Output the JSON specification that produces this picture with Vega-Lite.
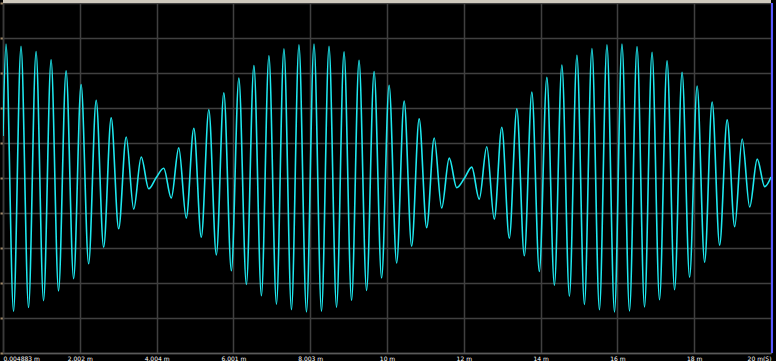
{
  "$schema": "https://vega.github.io/schema/vega-lite/v6.json",
  "width": 768,
  "height": 350,
  "autosize": {"type": "none"},
  "padding": {"left": 3, "top": 3, "right": 5, "bottom": 8},
  "background": "#000000",
  "config": {
    "view": {"stroke": "#3a3a3a", "fill": "#000000"},
    "axis": {"gridColor": "#404040", "gridWidth": 1.5, "gridOpacity": 1}
  },
  "data": {"values": [
    {"t": 0.0, "v": 1.197},
    {"t": 0.078, "v": 3.828}, {"t": 0.274, "v": -3.808}, {"t": 0.469, "v": 3.765}, {"t": 0.665, "v": -3.700},
    {"t": 0.861, "v": 3.614}, {"t": 1.056, "v": -3.505}, {"t": 1.252, "v": 3.377}, {"t": 1.447, "v": -3.228},
    {"t": 1.643, "v": 3.060}, {"t": 1.839, "v": -2.874}, {"t": 2.034, "v": 2.671}, {"t": 2.230, "v": -2.452},
    {"t": 2.426, "v": 2.220}, {"t": 2.621, "v": -1.974}, {"t": 2.817, "v": 1.717}, {"t": 3.012, "v": -1.449},
    {"t": 3.208, "v": 1.172}, {"t": 3.404, "v": -0.889}, {"t": 3.599, "v": 0.600}, {"t": 3.795, "v": -0.308},
    {"t": 3.991, "v": 0.014}, {"t": 4.186, "v": 0.280}, {"t": 4.382, "v": -0.572}, {"t": 4.577, "v": 0.861},
    {"t": 4.773, "v": -1.145}, {"t": 4.969, "v": 1.422}, {"t": 5.164, "v": -1.691}, {"t": 5.360, "v": 1.949},
    {"t": 5.556, "v": -2.197}, {"t": 5.751, "v": 2.432}, {"t": 5.947, "v": -2.651}, {"t": 6.142, "v": 2.855},
    {"t": 6.338, "v": -3.043}, {"t": 6.534, "v": 3.212}, {"t": 6.729, "v": -3.363}, {"t": 6.925, "v": 3.494},
    {"t": 7.121, "v": -3.604}, {"t": 7.316, "v": 3.693}, {"t": 7.512, "v": -3.760}, {"t": 7.707, "v": 3.805},
    {"t": 7.903, "v": -3.827}, {"t": 8.099, "v": 3.827}, {"t": 8.294, "v": -3.804}, {"t": 8.490, "v": 3.760},
    {"t": 8.686, "v": -3.692}, {"t": 8.881, "v": 3.603}, {"t": 9.077, "v": -3.493}, {"t": 9.272, "v": 3.362},
    {"t": 9.468, "v": -3.211}, {"t": 9.664, "v": 3.041}, {"t": 9.859, "v": -2.854}, {"t": 10.055, "v": 2.649},
    {"t": 10.251, "v": -2.429}, {"t": 10.446, "v": 2.195}, {"t": 10.642, "v": -1.947}, {"t": 10.837, "v": 1.688},
    {"t": 11.033, "v": -1.419}, {"t": 11.229, "v": 1.142}, {"t": 11.424, "v": -0.858}, {"t": 11.620, "v": 0.569},
    {"t": 11.816, "v": -0.277}, {"t": 12.011, "v": -0.017}, {"t": 12.207, "v": 0.311}, {"t": 12.402, "v": -0.603},
    {"t": 12.598, "v": 0.891}, {"t": 12.794, "v": -1.174}, {"t": 12.989, "v": 1.451}, {"t": 13.185, "v": -1.719},
    {"t": 13.381, "v": 1.976}, {"t": 13.576, "v": -2.222}, {"t": 13.772, "v": 2.454}, {"t": 13.967, "v": -2.673},
    {"t": 14.163, "v": 2.876}, {"t": 14.359, "v": -3.062}, {"t": 14.554, "v": 3.229}, {"t": 14.750, "v": -3.378},
    {"t": 14.946, "v": 3.506}, {"t": 15.141, "v": -3.614}, {"t": 15.337, "v": 3.701}, {"t": 15.532, "v": -3.766},
    {"t": 15.728, "v": 3.808}, {"t": 15.924, "v": -3.828}, {"t": 16.119, "v": 3.826}, {"t": 16.315, "v": -3.801},
    {"t": 16.511, "v": 3.753}, {"t": 16.706, "v": -3.684}, {"t": 16.902, "v": 3.593}, {"t": 17.097, "v": -3.480},
    {"t": 17.293, "v": 3.347}, {"t": 17.489, "v": -3.194}, {"t": 17.684, "v": 3.023}, {"t": 17.880, "v": -2.833},
    {"t": 18.076, "v": 2.627}, {"t": 18.271, "v": -2.405}, {"t": 18.467, "v": 2.170}, {"t": 18.662, "v": -1.920},
    {"t": 18.858, "v": 1.660}, {"t": 19.054, "v": -1.390}, {"t": 19.249, "v": 1.113}, {"t": 19.445, "v": -0.828},
    {"t": 19.641, "v": 0.538}, {"t": 19.836, "v": -0.246}, {"t": 20.0, "v": 0.03}
  ]},
  "layer": [
    {
      "mark": {"type": "line", "interpolate": "monotone", "color": "#1ee8ef", "strokeWidth": 1.6, "clip": true},
      "encoding": {
        "x": {
          "field": "t", "type": "quantitative",
          "scale": {"domain": [0, 20], "nice": false, "zero": false},
          "axis": {
            "title": null,
            "values": [0, 2, 4, 6, 8, 10, 12, 14, 16, 18, 20],
            "labelExpr": "datum.value == 0 ? '0.004883 m' : datum.value == 2 ? '2.002 m' : datum.value == 4 ? '4.004 m' : datum.value == 6 ? '6.001 m' : datum.value == 8 ? '8.003 m' : datum.value == 20 ? '20 m(S)' : datum.value + ' m'",
            "labelFlush": true,
            "labelColor": "#ffffff",
            "labelFont": "DejaVu Sans",
            "labelFontSize": 6,
            "labelPadding": 2,
            "ticks": false,
            "domainColor": "#5a5a5a",
            "domainWidth": 1.5,
            "grid": true
          }
        },
        "y": {
          "field": "v", "type": "quantitative",
          "scale": {"domain": [-5, 5], "nice": false},
          "axis": {
            "title": null,
            "values": [-5, -4, -3, -2, -1, 0, 1, 2, 3, 4, 5],
            "labels": false,
            "ticks": true,
            "tickSize": 3,
            "tickColor": "#a08a6a",
            "tickWidth": 2,
            "domainColor": "#3a3a3a",
            "domainWidth": 1.5,
            "grid": true
          }
        }
      }
    },
    {
      "mark": {"type": "rule", "color": "#cfc9bd", "strokeWidth": 3, "yOffset": -2},
      "encoding": {
        "y": {
          "datum": 5, "type": "quantitative",
          "scale": {"domain": [-5, 5], "nice": false},
          "axis": {
            "title": null,
            "values": [-5, -4, -3, -2, -1, 0, 1, 2, 3, 4, 5],
            "labels": false,
            "ticks": true,
            "tickSize": 3,
            "tickColor": "#a08a6a",
            "tickWidth": 2,
            "domainColor": "#3a3a3a",
            "domainWidth": 1.5,
            "grid": true
          }
        }
      }
    },
    {
      "mark": {"type": "rule", "color": "#5a5aff", "strokeWidth": 1.5, "xOffset": 1},
      "encoding": {
        "x": {
          "datum": 20, "type": "quantitative",
          "scale": {"domain": [0, 20], "nice": false, "zero": false},
          "axis": {
            "title": null,
            "values": [0, 2, 4, 6, 8, 10, 12, 14, 16, 18, 20],
            "labelExpr": "datum.value == 0 ? '0.004883 m' : datum.value == 2 ? '2.002 m' : datum.value == 4 ? '4.004 m' : datum.value == 6 ? '6.001 m' : datum.value == 8 ? '8.003 m' : datum.value == 20 ? '20 m(S)' : datum.value + ' m'",
            "labelFlush": true,
            "labelColor": "#ffffff",
            "labelFont": "DejaVu Sans",
            "labelFontSize": 6,
            "labelPadding": 2,
            "ticks": false,
            "domainColor": "#5a5a5a",
            "domainWidth": 1.5,
            "grid": true
          }
        }
      }
    }
  ]
}
